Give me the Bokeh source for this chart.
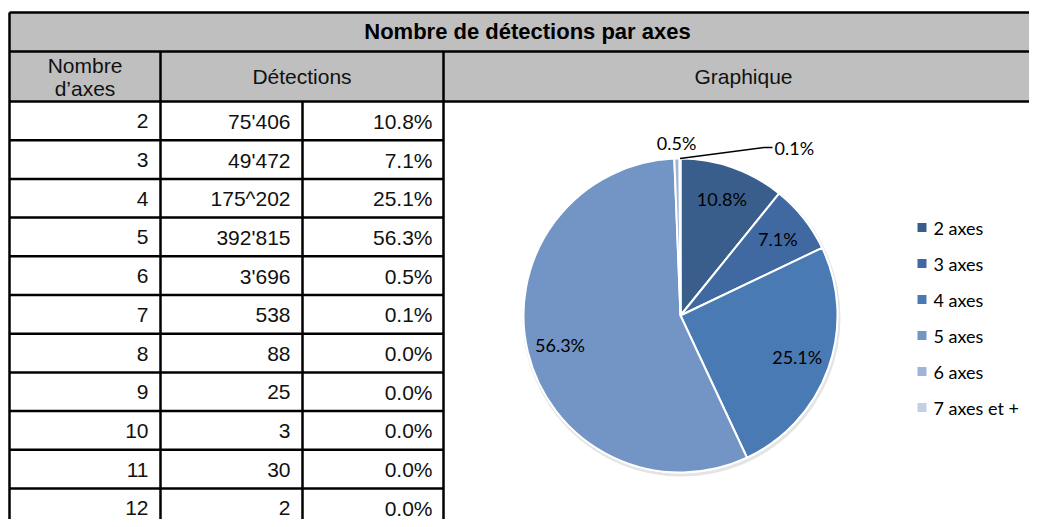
import numpy as np
from bokeh.plotting import figure
from bokeh.models import Range1d, ColumnDataSource
from bokeh.embed import file_html
from bokeh.resources import INLINE
from bokeh.core.properties import value

# ---------------- data ----------------
title = "Nombre de détections par axes"
header_axes = ["Nombre", "d’axes"]
header_det = "Détections"
header_graph = "Graphique"

axes_numbers = ["2", "3", "4", "5", "6", "7", "8", "9", "10", "11", "12"]
detections = ["75'406", "49'472", "175^202", "392'815", "3'696", "538", "88", "25", "3", "30", "2"]
percents = ["10.8%", "7.1%", "25.1%", "56.3%", "0.5%", "0.1%", "0.0%", "0.0%", "0.0%", "0.0%", "0.0%"]

pie_labels = ["2 axes", "3 axes", "4 axes", "5 axes", "6 axes", "7 axes et +"]
pie_values = [75406, 49472, 175202, 392815, 3696, 538 + 88 + 25 + 3 + 30 + 2]
pie_pct_labels = ["10.8%", "7.1%", "25.1%", "56.3%", "0.5%", "0.1%"]
pie_colors = ["#3A5E8C", "#3F69A0", "#4A7AB4", "#7395C5", "#A0B3D8", "#C4CEE5"]

# ---------------- layout ----------------
W, H = 1029, 519
def Y(py):
    return H - py

TABLE_FONT = value("Liberation Sans")
PIE_FONT = value("Lato")
TFS = "21px"
PFS = "18px"

p = figure(width=W, height=H, x_range=Range1d(0, W), y_range=Range1d(0, H),
           output_backend="svg", toolbar_location=None, min_border=0,
           x_axis_location=None, y_axis_location=None)
p.grid.visible = False
p.outline_line_color = None
p.background_fill_color = "white"
p.border_fill_color = "white"

left, c1, c2, c3, right = 9, 160, 302, 443, 1040
top, r_title, r_head = 12, 51, 101
row_h = 38.7
n_rows = len(axes_numbers)
bottom = r_head + row_h * n_rows

# header backgrounds
p.quad(left=[left], right=[right], top=[Y(top)], bottom=[Y(r_head)],
       fill_color="#BFBFBF", line_color=None)

# grid lines
hx0, hx1, hy = [], [], []
for yy in (top, r_title, r_head):
    hx0.append(left); hx1.append(right); hy.append(Y(yy))
for k in range(1, n_rows + 1):
    yy = r_head + row_h * k
    hx0.append(left); hx1.append(c3); hy.append(Y(yy))
p.segment(x0=hx0, x1=hx1, y0=hy, y1=hy, line_color="black", line_width=2.5)
vx = [left, c1, c3, c2]
vy0 = [Y(top), Y(r_title), Y(r_title), Y(r_head)]
vy1 = [Y(bottom)] * 4
p.segment(x0=vx, x1=vx, y0=vy0, y1=vy1, line_color="black", line_width=2.5)

# header texts
p.text(x=[527], y=[Y(31)], text=[title], text_font=TABLE_FONT,
       text_font_size="22px", text_font_style="bold", text_align="center",
       text_baseline="middle", text_color="black")
p.text(x=[(left + c1) / 2] * 2, y=[Y(65), Y(88)], text=header_axes, text_font=TABLE_FONT,
       text_font_size=TFS, text_align="center", text_baseline="middle", text_color="#111111")
p.text(x=[(c1 + c3) / 2, (c3 + 1043) / 2], y=[Y(76), Y(76)], text=[header_det, header_graph],
       text_font=TABLE_FONT, text_font_size=TFS, text_align="center",
       text_baseline="middle", text_color="#111111")

# table body
row_y = [Y(r_head + row_h * i + row_h / 2 + 0.5) for i in range(n_rows)]
for xr, col in ((c1 - 12, axes_numbers), (c2 - 12, detections), (c3 - 11, percents)):
    p.text(x=[xr] * n_rows, y=row_y, text=col, text_font=TABLE_FONT, text_font_size=TFS,
           text_align="right", text_baseline="middle", text_color="#111111")

# ---------------- pie ----------------
cx, cy, R = 680, Y(315), 157
vals = np.array(pie_values, dtype=float)
frac = vals / vals.sum()
cum_after = np.cumsum(frac)
cum_before = cum_after - frac
start = np.pi / 2 - 2 * np.pi * cum_after
end = np.pi / 2 - 2 * np.pi * cum_before

# soft shadow
p.circle(x=[cx + 1], y=[cy - 2], radius=R + 2, fill_color="#E4E4E4", line_color=None)
p.circle(x=[cx], y=[cy], radius=R + 1, fill_color="white", line_color=None)

src = ColumnDataSource(dict(start=start, end=end, color=pie_colors))
p.wedge(x=cx, y=cy, radius=R, start_angle="start", end_angle="end", fill_color="color",
        line_color="white", line_width=2, source=src)

mid = 2 * np.pi * (cum_before + frac / 2)  # clockwise from top
inside = frac > 0.02
lr = 124
ix = cx + lr * np.sin(mid[inside])
iy = cy + lr * np.cos(mid[inside])
p.text(x=ix, y=iy, text=[t for t, k in zip(pie_pct_labels, inside) if k], text_font=PIE_FONT,
       text_font_size=PFS, text_align="center", text_baseline="middle", text_color="black")

# outside labels: 6 axes above, 7+ with leader line
m6 = mid[4]
p.text(x=[cx + 173 * np.sin(m6)], y=[cy + 173 * np.cos(m6)], text=[pie_pct_labels[4]],
       text_font=PIE_FONT, text_font_size=PFS, text_align="center", text_baseline="middle",
       text_color="black")
m7 = mid[5]
ex, ey = cx + R * np.sin(m7), cy + R * np.cos(m7)
p.line(x=[ex, cx + 84, cx + 92], y=[ey, cy + 168, cy + 168], line_color="black", line_width=1.5)
p.text(x=[cx + 94], y=[cy + 168], text=[pie_pct_labels[5]], text_font=PIE_FONT,
       text_font_size=PFS, text_align="left", text_baseline="middle", text_color="black")

# legend
lg_y = [Y(227 + 36 * i) for i in range(len(pie_labels))]
p.scatter(x=[921.5] * len(pie_labels), y=lg_y, marker="square", size=9,
          fill_color=pie_colors, line_color=None)
p.text(x=[933] * len(pie_labels), y=lg_y, text=pie_labels, text_font=PIE_FONT,
       text_font_size=PFS, text_align="left", text_baseline="middle", text_color="black")

open("out.html", "w").write(file_html(p, INLINE))
